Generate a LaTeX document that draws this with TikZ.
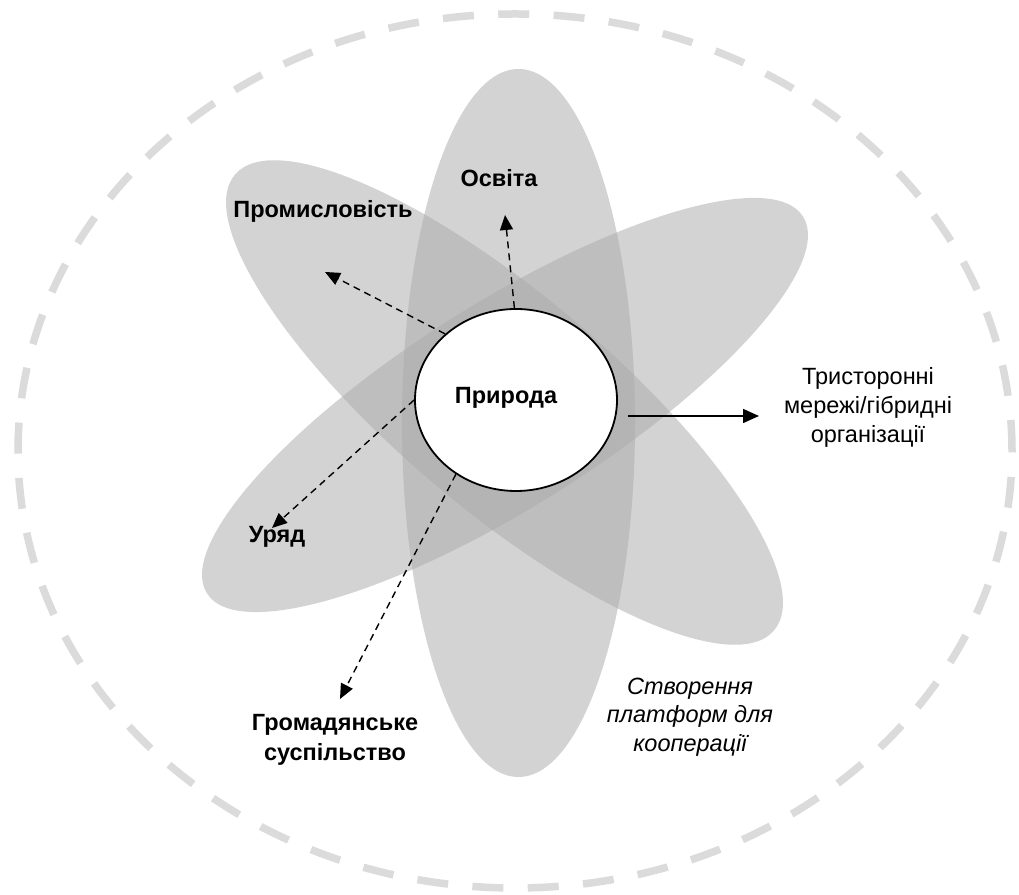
\documentclass[tikz,border=0pt]{standalone}
\usepackage{fontspec}
\setmainfont{Liberation Sans}
\usetikzlibrary{arrows.meta,shapes.geometric}
\begin{document}
\begin{tikzpicture}[x=1pt,y=1pt,
  petal/.style={fill=black!33, fill opacity=0.52, draw=none},
  lbl/.style={font=\fontsize{23.5}{30}\selectfont\bfseries, align=center, inner sep=0pt},
  note/.style={font=\fontsize{23.5}{29}\selectfont, align=center, inner sep=0pt},
  dasharrow/.style={draw=black, line width=1.4pt, dash pattern=on 7pt off 5pt, -{Triangle[length=15pt,width=13pt]}},
  solidarrow/.style={draw=black, line width=1.6pt, -{Triangle[length=16pt,width=14pt]}},
]
\useasboundingbox (0,0) rectangle (1019,894);
\fill[white] (0,0) rectangle (1019,894);
% outer dashed boundary
\draw[line width=7.5pt, draw=black!14, dash pattern=on 31pt off 24.4pt] (515,443) ellipse [x radius=497pt, y radius=437pt];
% petals
\fill[petal] (518.5,471) ellipse [x radius=116.5pt, y radius=354pt];
\begin{scope}[shift={(504.5,491.5)}, rotate=-40.2]
  \fill[petal] (0,0) ellipse [x radius=353pt, y radius=107.5pt];
\end{scope}
\begin{scope}[shift={(505,489)}, rotate=32.3]
  \fill[petal] (0,0) ellipse [x radius=352.6pt, y radius=101.5pt];
\end{scope}
% centre
\node[ellipse, draw=black, line width=1.8pt, fill=white, minimum width=202pt, minimum height=182pt, inner sep=0pt] (c) at (516,494) {};
\node[lbl] (cl) at (506,496) {Природа};
% labels
\node[lbl] (osv) at (499,716) {Освіта};
\node[lbl] (prom) at (323,683) {Промисловість};
\node[lbl] (ur) at (277,357) {Уряд};
\node[lbl] (gr) at (335,154) {Громадянське\\суспільство};
\node[note] (tri) at (868,487) {Тристоронні\\мережі/гібридні\\організації};
\node[note, font=\fontsize{23.5}{28.5}\selectfont\itshape] (plat) at (690,177) {Створення\\платформ для\\кооперації};
% arrow tips
\coordinate (tOsv) at (505,679);
\coordinate (tProm) at (325,622);
\coordinate (tUr) at (272,366);
\coordinate (tGr) at (340,195);
\coordinate (sTri) at (628,478);
\coordinate (tTri) at (759,478);
% connectors
\draw[dasharrow] (c.91) -- (tOsv);
\draw[dasharrow] (c.137.5) -- (tProm);
\draw[dasharrow] (c.180) -- (tUr);
\draw[dasharrow] (c.231.8) -- (tGr);
\draw[solidarrow] (sTri) -- (tTri);
\end{tikzpicture}
\end{document}
